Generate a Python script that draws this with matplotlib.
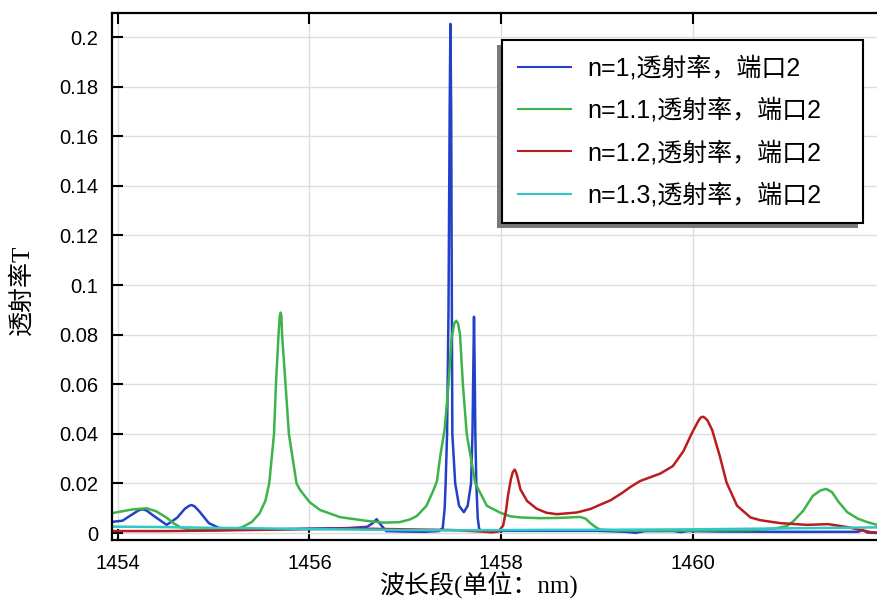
import matplotlib
matplotlib.use("Agg")
import matplotlib.pyplot as plt
from matplotlib.patches import Rectangle
from matplotlib.transforms import IdentityTransform
from matplotlib.font_manager import FontProperties

plt.rcParams['font.family'] = ['Liberation Sans', 'Noto Sans CJK SC', 'DejaVu Sans']

# ---------------- data ----------------
blue_x = [1453.94, 1454.05, 1454.15, 1454.22, 1454.26, 1454.30, 1454.38, 1454.51, 1454.62,
          1454.70, 1454.745, 1454.77, 1454.80, 1454.85, 1454.95, 1455.06, 1455.30, 1455.60,
          1456.00, 1456.40, 1456.60, 1456.66, 1456.70, 1456.74, 1456.80, 1457.00, 1457.20,
          1457.35, 1457.39, 1457.41, 1457.42, 1457.435, 1457.45, 1457.462, 1457.47, 1457.478,
          1457.485, 1457.49, 1457.52, 1457.56, 1457.61, 1457.65, 1457.685, 1457.70, 1457.71,
          1457.716, 1457.722, 1457.73, 1457.74, 1457.755, 1457.77, 1457.80, 1458.00, 1458.50,
          1459.00, 1459.30, 1459.40, 1459.50, 1459.80, 1459.87, 1459.95, 1460.30, 1461.00,
          1461.50, 1461.72, 1461.77, 1461.82, 1461.93]
blue_y = [0.0045, 0.0050, 0.0075, 0.0092, 0.0096, 0.0091, 0.0068, 0.0033, 0.0062,
          0.0098, 0.0110, 0.0113, 0.0108, 0.0088, 0.0040, 0.0020, 0.0015, 0.0015,
          0.0018, 0.0020, 0.0025, 0.0040, 0.0056, 0.0035, 0.0008, 0.0006, 0.0005,
          0.0008, 0.0020, 0.0100, 0.0200, 0.0400, 0.0900, 0.1700, 0.2053, 0.1700,
          0.0900, 0.0400, 0.0200, 0.0110, 0.0084, 0.0110, 0.0200, 0.0400, 0.0700,
          0.0872, 0.0700, 0.0400, 0.0200, 0.0060, 0.0015, 0.0010, 0.0009, 0.0009,
          0.0009, 0.0005, 0.0001, 0.0008, 0.0008, 0.0004, 0.0008, 0.0006, 0.0005,
          0.0005, 0.0005, 0.0012, 0.0002, 0.0000]

green_x = [1453.94, 1454.05, 1454.15, 1454.30, 1454.40, 1454.51, 1454.58, 1454.65, 1454.75,
           1455.00, 1455.20, 1455.30, 1455.40, 1455.48, 1455.54, 1455.58, 1455.63, 1455.65,
           1455.677, 1455.69, 1455.70, 1455.707, 1455.714, 1455.75, 1455.785, 1455.865, 1455.90,
           1456.00, 1456.11, 1456.32, 1456.60, 1456.77, 1456.94, 1457.05, 1457.12, 1457.22,
           1457.29, 1457.33, 1457.36, 1457.41, 1457.45, 1457.48, 1457.51, 1457.53, 1457.55,
           1457.57, 1457.60, 1457.64, 1457.73, 1457.85, 1457.99, 1458.09, 1458.20, 1458.40,
           1458.60, 1458.82, 1458.88, 1458.93, 1458.98, 1459.03, 1459.20, 1460.00, 1460.60,
           1460.85, 1460.98, 1461.05, 1461.15, 1461.25, 1461.33, 1461.39, 1461.45, 1461.52,
           1461.61, 1461.72, 1461.82, 1461.93]
green_y = [0.0080, 0.0088, 0.0095, 0.0100, 0.0088, 0.0062, 0.0040, 0.0024, 0.0013,
           0.0011, 0.0014, 0.0024, 0.0045, 0.0080, 0.0130, 0.0200, 0.0400, 0.0600,
           0.0800, 0.0875, 0.0889, 0.0875, 0.0800, 0.0600, 0.0400, 0.0200, 0.0175,
           0.0125, 0.0093, 0.0064, 0.0049, 0.0042, 0.0044, 0.0055, 0.0069, 0.0110,
           0.0170, 0.0210, 0.0300, 0.0420, 0.0600, 0.0780, 0.0845, 0.0856, 0.0845,
           0.0800, 0.0600, 0.0400, 0.0200, 0.0110, 0.0082, 0.0068, 0.0063, 0.0060,
           0.0061, 0.0065, 0.0058, 0.0040, 0.0025, 0.0014, 0.0010, 0.0010, 0.0012,
           0.0018, 0.0028, 0.0049, 0.0090, 0.0150, 0.0172, 0.0178, 0.0165, 0.0125,
           0.0084, 0.0058, 0.0044, 0.0032]

red_x = [1453.94, 1454.50, 1455.00, 1455.50, 1456.00, 1456.50, 1457.00, 1457.50, 1457.80,
         1457.90, 1457.97, 1458.02, 1458.05, 1458.07, 1458.10, 1458.12, 1458.14, 1458.155,
         1458.17, 1458.20, 1458.27, 1458.37, 1458.47, 1458.58, 1458.79, 1458.93, 1459.03,
         1459.14, 1459.27, 1459.34, 1459.45, 1459.52, 1459.66, 1459.79, 1459.90, 1459.99,
         1460.06, 1460.08, 1460.10, 1460.12, 1460.15, 1460.20, 1460.28, 1460.35, 1460.46,
         1460.60, 1460.70, 1460.91, 1461.19, 1461.41, 1461.61, 1461.85, 1461.93]
red_y = [0.0008, 0.0008, 0.0010, 0.0013, 0.0016, 0.0018, 0.0015, 0.0012, 0.0006,
         0.0003, 0.0006, 0.0030, 0.0090, 0.0150, 0.0216, 0.0245, 0.0256, 0.0245,
         0.0225, 0.0176, 0.0129, 0.0098, 0.0082, 0.0076, 0.0083, 0.0097, 0.0114,
         0.0132, 0.0164, 0.0184, 0.0210, 0.0220, 0.0240, 0.0270, 0.0330, 0.0404,
         0.0455, 0.0465, 0.0469, 0.0466, 0.0455, 0.0416, 0.0310, 0.0204, 0.0110,
         0.0063, 0.0052, 0.0040, 0.0033, 0.0036, 0.0024, 0.0004, 0.0002]

cyan_x = [1453.94, 1454.50, 1455.00, 1455.50, 1456.00, 1456.50, 1457.00, 1457.50, 1458.00,
          1458.50, 1459.00, 1459.50, 1460.00, 1460.50, 1461.00, 1461.50, 1461.93]
cyan_y = [0.0026, 0.0024, 0.0021, 0.0019, 0.0016, 0.0014, 0.0012, 0.0011, 0.0012,
          0.0013, 0.0013, 0.0014, 0.0015, 0.0017, 0.0019, 0.0021, 0.0023]

labels = ['n=1,透射率，端口2', 'n=1.1,透射率，端口2', 'n=1.2,透射率，端口2', 'n=1.3,透射率，端口2']
colors = ['#2341c8', '#3cb44b', '#b81e1e', '#2ec8c8']

x_ticks = [1454, 1456, 1458, 1460]
y_ticks = [0, 0.02, 0.04, 0.06, 0.08, 0.1, 0.12, 0.14, 0.16, 0.18, 0.2]
y_tick_labels = ['0', '0.02', '0.04', '0.06', '0.08', '0.1', '0.12', '0.14', '0.16', '0.18', '0.2']

x_label = '波长段(单位：nm)'
y_label = '透射率T'

# ---------------- figure ----------------
W, H = 878, 600
fig = plt.figure(figsize=(W / 100, H / 100), dpi=100)
ax = fig.add_axes([112 / W, 60 / H, 1 - 112 / W, 527 / H])

series = [(blue_x, blue_y), (green_x, green_y), (red_x, red_y), (cyan_x, cyan_y)]
for (xs, ys), c, lab in zip(series, colors, labels):
    ax.plot(xs, ys, color=c, linewidth=1.8, label=lab, solid_joinstyle='round')

ax.set_xlim(1453.94, 1461.93)
ax.set_ylim(-0.0028, 0.2097)
ax.set_xticks(x_ticks)
ax.set_xticklabels([str(v) for v in x_ticks])
ax.set_yticks(y_ticks)
ax.set_yticklabels(y_tick_labels)

ax.grid(True, color='#dddddd', linewidth=1.0)
ax.set_axisbelow(True)

for s in ['left', 'bottom', 'top']:
    ax.spines[s].set_linewidth(1.6)
    ax.spines[s].set_color('black')
ax.spines['right'].set_visible(False)

ax.tick_params(axis='both', direction='in', length=8, width=1.5, top=True, right=False,
               labelsize=14.5, pad=10, colors='black')

label_family = ['Liberation Serif', 'Noto Sans CJK SC', 'DejaVu Sans']
ax.set_xlabel(x_label, fontsize=18, family=label_family)
ax.xaxis.set_label_coords((478 - 112) / 766, (15 - 60) / 527)
ax.xaxis.label.set_va('center')
ax.set_ylabel(y_label, fontsize=18, family=label_family)
ax.yaxis.set_label_coords((22 - 112) / 766, (310 - 60) / 527)
ax.yaxis.label.set_va('center')

leg_prop = FontProperties(family=['Liberation Sans', 'Noto Sans CJK SC', 'DejaVu Sans'], size=18)
leg = ax.legend(loc='upper left', bbox_to_anchor=(502 / W, 1 - 223 / H, 361 / W, 183 / H),
                bbox_transform=fig.transFigure, mode='expand', borderaxespad=0,
                prop=leg_prop, fancybox=False, framealpha=1, edgecolor='black',
                handlelength=2.12, handletextpad=0.68, labelspacing=0.7, borderpad=0.62)
leg.get_frame().set_linewidth(1.5)
for h in leg.get_lines():
    h.set_linewidth(1.5)

fig.canvas.draw()
bb = leg.get_frame().get_window_extent()
shadow = Rectangle((bb.x0 - 5, bb.y0 - 5), bb.width, bb.height, transform=IdentityTransform(),
                   facecolor='#7a7a7a', edgecolor='none', zorder=4.5, clip_on=False)
ax.add_artist(shadow)

fig.savefig('out.png', dpi=100)
